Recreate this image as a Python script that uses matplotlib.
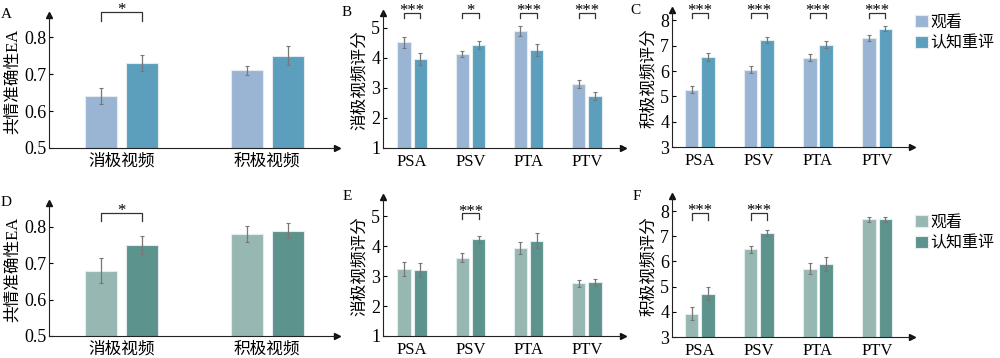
# plot.py
# Figura 2x3: EA y valoraciones de vídeos (observar vs. reevaluación cognitiva)
import matplotlib
matplotlib.use("Agg")
import matplotlib.pyplot as plt
import numpy as np

plt.rcParams["font.family"] = ["Liberation Serif", "Noto Sans CJK SC"]

LEGEND_LABELS = ["观看", "认知重评"]
EA_CATS = ["消极视频", "积极视频"]
RATE_CATS = ["PSA", "PSV", "PTA", "PTV"]

# fila superior
A_watch = [0.64, 0.71]
A_watch_err = [0.022, 0.013]
A_reap = [0.73, 0.75]
A_reap_err = [0.022, 0.025]

B_watch = [4.52, 4.14, 4.90, 3.14]
B_watch_err = [0.18, 0.10, 0.18, 0.13]
B_reap = [3.97, 4.44, 4.26, 2.73]
B_reap_err = [0.20, 0.13, 0.20, 0.13]

C_watch = [5.27, 6.06, 6.53, 7.32]
C_watch_err = [0.15, 0.12, 0.15, 0.12]
C_reap = [6.56, 7.22, 7.03, 7.67]
C_reap_err = [0.17, 0.12, 0.14, 0.10]

# fila inferior
D_watch = [0.68, 0.78]
D_watch_err = [0.035, 0.022]
D_reap = [0.75, 0.79]
D_reap_err = [0.025, 0.020]

E_watch = [3.24, 3.61, 3.93, 2.76]
E_watch_err = [0.22, 0.15, 0.20, 0.13]
E_reap = [3.21, 4.24, 4.18, 2.79]
E_reap_err = [0.22, 0.12, 0.25, 0.13]

F_watch = [3.93, 6.48, 5.72, 7.67]
F_watch_err = [0.25, 0.15, 0.20, 0.10]
F_reap = [4.72, 7.13, 5.91, 7.67]
F_reap_err = [0.27, 0.12, 0.28, 0.10]

# significancia: (índice de grupo, texto)
A_sig = [(0, "*")]
B_sig = [(0, "***"), (1, "*"), (2, "***"), (3, "***")]
C_sig = [(0, "***"), (1, "***"), (2, "***"), (3, "***")]
D_sig = [(0, "*")]
E_sig = [(1, "***")]
F_sig = [(0, "***"), (1, "***")]

BLUE = ("#9ab4d3", "#5b9fbd")
GREEN = ("#97b8b2", "#5c938c")

W, H = 1000, 358


def box(l, r, b, t):
    return [l / W, 1 - b / H, (r - l) / W, (b - t) / H]


def panel(fig, rect, cats, watch, werr, reap, rerr, colors, ylim, yticks,
          xlim, width, off, sig, bracket, ylabel, letter):
    ax = fig.add_axes(rect)
    x = np.arange(len(cats))
    ax.bar(x - off, watch, width, color=colors[0], edgecolor="#e4ecef", linewidth=0.8,
           label=LEGEND_LABELS[0], zorder=2)
    ax.bar(x + off, reap, width, color=colors[1], edgecolor="#e4ecef", linewidth=0.8,
           label=LEGEND_LABELS[1], zorder=2)
    ax.errorbar(x - off, watch, yerr=werr, fmt="none", ecolor="#777777", elinewidth=0.9,
                capsize=1.5, capthick=0.8, zorder=3)
    ax.errorbar(x + off, reap, yerr=rerr, fmt="none", ecolor="#777777", elinewidth=0.9,
                capsize=1.5, capthick=0.8, zorder=3)
    ax.set_ylim(*ylim)
    ax.set_xlim(*xlim)
    ax.set_yticks(yticks)
    ax.set_yticklabels([f"{t:g}" for t in yticks], fontsize=13)
    ax.set_xticks(x)
    ax.set_xticklabels(cats, fontsize=12)
    ax.tick_params(axis="x", length=0, pad=4)
    ax.tick_params(axis="y", direction="in", length=3, pad=2)
    for s in ("top", "right"):
        ax.spines[s].set_visible(False)
    ax.spines["left"].set_color("#222222")
    ax.spines["bottom"].set_color("#222222")
    ax.plot(0, 1, "^", color="#111111", ms=5, transform=ax.transAxes, clip_on=False)
    ax.plot(1, 0, ">", color="#111111", ms=5, transform=ax.transAxes, clip_on=False)
    ax.set_ylabel(ylabel, fontsize=12, labelpad=2)

    # corchetes de significancia
    y_top, y_low = bracket
    for i, txt in sig:
        x0, x1 = i - off, i + off
        ax.plot([x0, x0, x1, x1], [y_low, y_top, y_top, y_low], color="#333333",
                lw=0.9, clip_on=False)
        ax.annotate(txt, xy=((x0 + x1) / 2, y_top), xytext=(0, -1.5),
                    textcoords="offset points", ha="center", va="baseline",
                    fontsize=12, annotation_clip=False)
    ax.text(-0.13, 1.0, letter, transform=ax.transAxes,
            fontsize=11, ha="right", va="center")
    return ax


def add_legend(ax, y):
    ax.legend(loc="upper left", bbox_to_anchor=(1.0, y), frameon=False, fontsize=11.5,
              handlelength=0.8, handleheight=0.8, handletextpad=0.15, labelspacing=0.3,
              borderaxespad=0, borderpad=0.2)


fig = plt.figure(figsize=(10, 3.58), dpi=100)

# A
panel(fig, box(49, 337, 148, 15), EA_CATS, A_watch, A_watch_err, A_reap, A_reap_err,
      BLUE, (0.5, 0.86), [0.5, 0.6, 0.7, 0.8], (-0.498, 1.48), 0.22, 0.141,
      A_sig, (0.868, 0.845), "共情准确性EA", "A")
# B
panel(fig, box(383, 623, 148, 13), RATE_CATS, B_watch, B_watch_err, B_reap, B_reap_err,
      BLUE, (1, 5.5), [1, 2, 3, 4, 5], (-0.5, 3.62), 0.23, 0.14,
      B_sig, (5.5, 5.33), "消极视频评分", "B")
# C
axC = panel(fig, box(672, 912, 147, 10), RATE_CATS, C_watch, C_watch_err, C_reap, C_reap_err,
            BLUE, (3, 8.41), [3, 4, 5, 6, 7, 8], (-0.47, 3.59), 0.23, 0.14,
            C_sig, (8.3, 8.1), "积极视频评分", "C")
add_legend(axC, 0.99)

# D
panel(fig, box(49, 337, 336, 203), EA_CATS, D_watch, D_watch_err, D_reap, D_reap_err,
      GREEN, (0.5, 0.866), [0.5, 0.6, 0.7, 0.8], (-0.498, 1.48), 0.22, 0.141,
      D_sig, (0.839, 0.817), "共情准确性EA", "D")
# E
panel(fig, box(383, 623, 336, 197), RATE_CATS, E_watch, E_watch_err, E_reap, E_reap_err,
      GREEN, (1, 5.65), [1, 2, 3, 4, 5], (-0.5, 3.62), 0.23, 0.14,
      E_sig, (5.1, 4.9), "消极视频评分", "E")
# F
axF = panel(fig, box(672, 912, 337, 196), RATE_CATS, F_watch, F_watch_err, F_reap, F_reap_err,
            GREEN, (3, 8.6), [3, 4, 5, 6, 7, 8], (-0.47, 3.59), 0.23, 0.14,
            F_sig, (7.92, 7.66), "积极视频评分", "F")
add_legend(axF, 0.89)

fig.savefig("out.png", dpi=100, facecolor="white")
